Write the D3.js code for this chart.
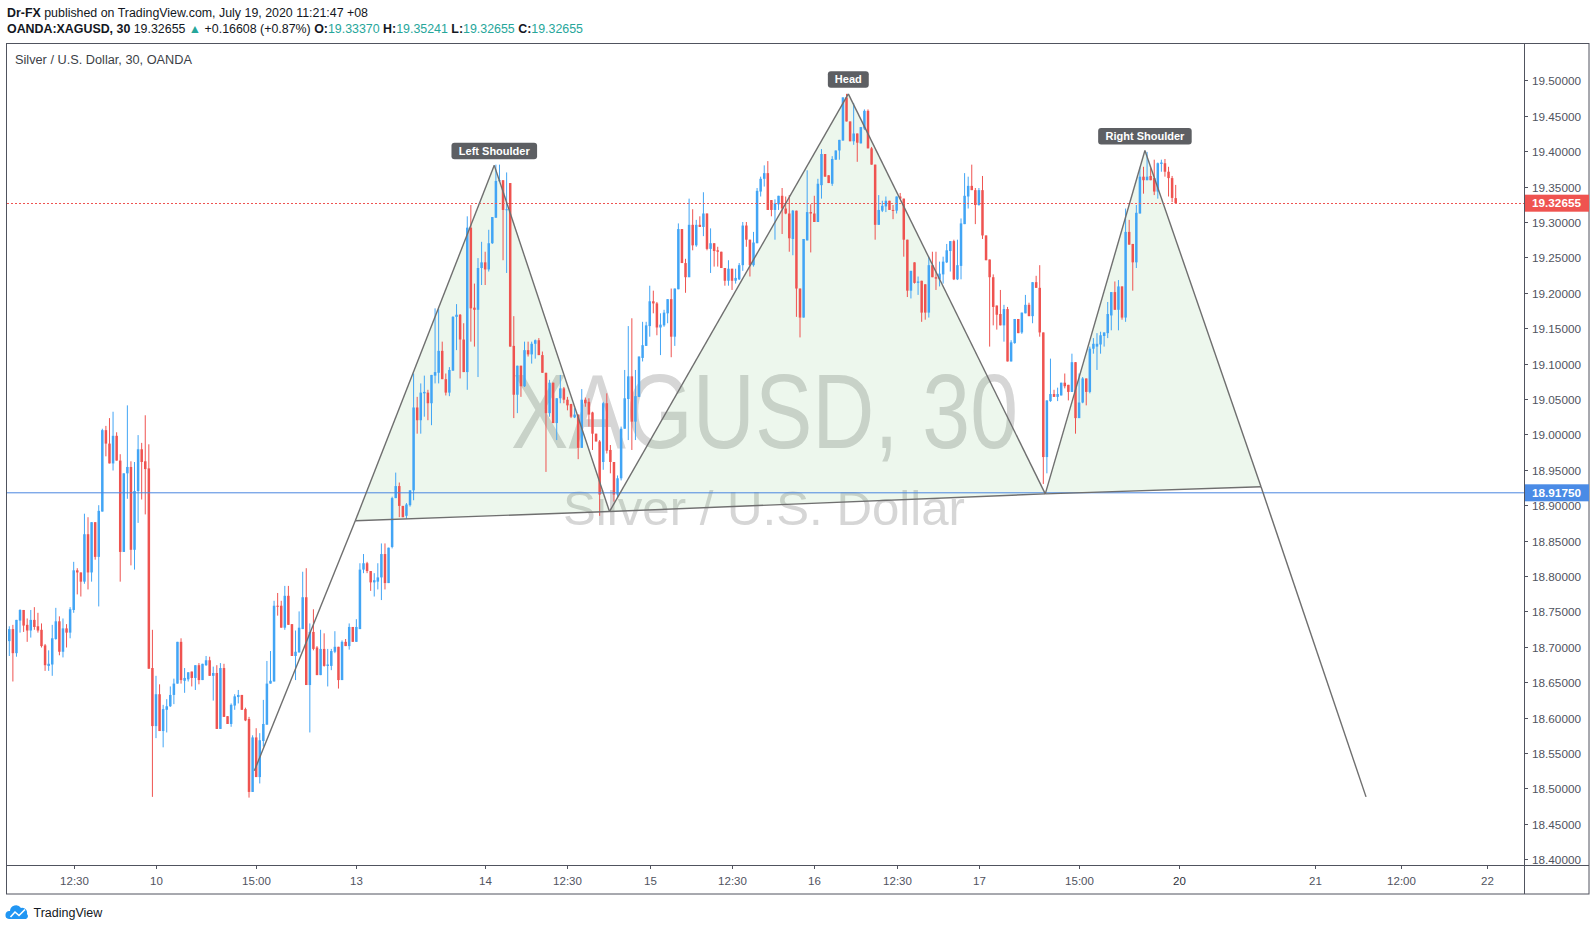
<!DOCTYPE html>
<html><head><meta charset="utf-8">
<script src="https://cdn.jsdelivr.net/npm/d3@7"></script>
<style>body{margin:0;background:#fff;} svg{display:block;font-family:"Liberation Sans",Arial,sans-serif;}</style>
</head><body><svg id="c" width="1596" height="930"></svg>
<script>
// ---- data (30-minute candles, XAGUSD) ----
const open = [
18.708,18.725,18.691,18.737,18.752,18.731,18.723,18.738,18.729,18.724,
18.702,18.673,18.675,18.711,18.736,18.693,18.726,18.720,18.752,18.808,
18.805,18.792,18.859,18.805,18.876,18.827,18.891,19.006,18.987,18.959,
18.998,18.963,18.834,18.945,18.954,18.837,18.920,18.979,18.962,18.952,
18.670,18.588,18.633,18.581,18.611,18.616,18.632,18.648,18.707,18.652,
18.654,18.665,18.656,18.674,18.653,18.674,18.681,18.659,18.663,18.584,
18.670,18.602,18.591,18.617,18.629,18.632,18.612,18.598,18.495,18.572,
18.516,18.567,18.590,18.648,18.651,18.758,18.758,18.727,18.772,18.732,
18.687,18.692,18.725,18.770,18.646,18.721,18.699,18.660,18.697,18.673,
18.673,18.693,18.700,18.653,18.707,18.701,18.728,18.707,18.725,18.809,
18.818,18.807,18.791,18.792,18.798,18.831,18.790,18.841,18.910,18.927,
18.899,18.885,18.900,18.921,19.038,19.020,19.058,19.059,19.044,19.083,
19.087,19.118,19.078,19.059,19.090,19.166,19.169,19.134,19.088,19.292,
19.179,19.176,19.235,19.243,19.233,19.270,19.306,19.358,19.359,19.317,
19.355,19.125,19.056,19.097,19.068,19.119,19.113,19.128,19.133,19.112,
19.087,19.030,19.073,19.016,19.051,19.065,19.049,19.043,19.024,19.028,
18.981,19.049,19.046,19.031,19.001,18.990,18.961,19.044,18.978,18.961,
18.915,18.938,19.008,19.050,19.082,19.018,19.053,19.108,19.125,19.153,
19.188,19.185,19.151,19.154,19.171,19.191,19.138,19.205,19.290,19.242,
19.222,19.296,19.267,19.296,19.293,19.312,19.262,19.270,19.260,19.258,
19.235,19.217,19.234,19.217,19.219,19.239,19.295,19.275,19.239,19.270,
19.343,19.361,19.369,19.331,19.317,19.325,19.337,19.319,19.312,19.276,
19.316,19.206,19.165,19.274,19.314,19.312,19.300,19.352,19.396,19.366,
19.354,19.388,19.401,19.415,19.476,19.442,19.414,19.425,19.411,19.432,
19.457,19.404,19.381,19.296,19.316,19.322,19.330,19.317,19.316,19.336,
19.333,19.275,19.203,19.243,19.214,19.217,19.212,19.172,19.239,19.222,
19.219,19.226,19.243,19.259,19.273,19.219,19.238,19.297,19.336,19.351,
19.345,19.324,19.345,19.281,19.247,19.222,19.182,19.170,19.154,19.177,
19.103,19.129,19.163,19.144,19.171,19.183,19.167,19.215,19.207,19.144,
18.968,19.047,19.057,19.053,19.055,19.073,19.070,19.060,19.102,19.023,
19.045,19.079,19.060,19.121,19.124,19.127,19.139,19.143,19.168,19.201,
19.176,19.209,19.165,19.286,19.269,19.243,19.312,19.364,19.359,19.365,
19.362,19.343,19.382,19.383,19.371,19.362,19.3337];
const high = [
18.729,18.731,18.738,18.753,18.752,18.740,18.752,18.756,18.748,18.733,
18.704,18.695,18.731,18.755,18.743,18.740,18.732,18.756,18.820,18.811,
18.805,18.888,18.883,18.876,18.876,18.900,19.008,19.012,19.023,19.032,
19.003,18.972,18.945,19.041,18.962,18.961,18.999,18.988,19.027,18.986,
18.724,18.659,18.647,18.618,18.626,18.644,18.655,18.707,18.712,18.670,
18.664,18.665,18.674,18.677,18.676,18.687,18.686,18.672,18.674,18.677,
18.676,18.602,18.620,18.633,18.639,18.632,18.614,18.601,18.575,18.585,
18.578,18.625,18.680,18.694,18.765,18.776,18.765,18.786,18.786,18.732,
18.723,18.750,18.806,18.811,18.733,18.753,18.701,18.724,18.719,18.697,
18.697,18.722,18.700,18.709,18.711,18.733,18.728,18.739,18.818,18.831,
18.820,18.807,18.804,18.818,18.846,18.846,18.840,18.912,18.946,18.932,
18.899,18.903,18.921,19.086,19.053,19.072,19.083,19.063,19.084,19.178,
19.177,19.131,19.086,19.095,19.167,19.184,19.170,19.157,19.308,19.324,
19.213,19.249,19.272,19.258,19.289,19.307,19.381,19.381,19.359,19.370,
19.355,19.167,19.097,19.097,19.131,19.131,19.131,19.134,19.136,19.117,
19.087,19.077,19.073,19.051,19.084,19.067,19.053,19.043,19.037,19.028,
19.064,19.052,19.051,19.032,19.001,18.992,19.046,19.058,18.985,18.961,
18.942,19.011,19.091,19.153,19.164,19.091,19.110,19.159,19.159,19.210,
19.203,19.187,19.171,19.176,19.191,19.206,19.206,19.298,19.290,19.248,
19.333,19.318,19.303,19.308,19.342,19.312,19.291,19.270,19.265,19.258,
19.235,19.246,19.234,19.234,19.242,19.300,19.300,19.275,19.286,19.348,
19.364,19.380,19.386,19.331,19.332,19.337,19.348,19.336,19.338,19.317,
19.316,19.206,19.276,19.373,19.325,19.337,19.361,19.403,19.396,19.366,
19.393,19.401,19.416,19.476,19.481,19.442,19.468,19.425,19.434,19.459,
19.459,19.406,19.381,19.338,19.330,19.336,19.330,19.324,19.336,19.341,
19.333,19.275,19.231,19.243,19.223,19.217,19.212,19.251,19.258,19.258,
19.244,19.251,19.269,19.273,19.275,19.275,19.305,19.369,19.364,19.381,
19.348,19.348,19.365,19.281,19.247,19.226,19.182,19.204,19.183,19.180,
19.133,19.163,19.163,19.172,19.197,19.186,19.215,19.224,19.239,19.144,
19.048,19.107,19.063,19.066,19.073,19.086,19.070,19.114,19.102,19.086,
19.081,19.079,19.124,19.136,19.143,19.145,19.144,19.187,19.201,19.216,
19.218,19.209,19.319,19.303,19.269,19.324,19.377,19.378,19.399,19.376,
19.388,19.384,19.388,19.389,19.378,19.365,19.3524];
const low = [
18.687,18.651,18.686,18.720,18.721,18.707,18.713,18.724,18.720,18.699,
18.666,18.666,18.659,18.710,18.688,18.685,18.699,18.712,18.748,18.774,
18.771,18.789,18.781,18.792,18.823,18.757,18.891,18.969,18.959,18.949,
18.963,18.792,18.834,18.909,18.815,18.809,18.875,18.908,18.887,18.669,
18.488,18.571,18.581,18.558,18.579,18.615,18.619,18.648,18.648,18.635,
18.651,18.644,18.639,18.647,18.653,18.673,18.659,18.624,18.584,18.584,
18.601,18.591,18.587,18.611,18.620,18.611,18.595,18.487,18.495,18.516,
18.507,18.559,18.590,18.648,18.651,18.744,18.727,18.724,18.731,18.687,
18.653,18.692,18.725,18.646,18.579,18.695,18.660,18.660,18.672,18.644,
18.667,18.691,18.641,18.653,18.701,18.696,18.707,18.707,18.725,18.804,
18.804,18.779,18.771,18.781,18.766,18.781,18.790,18.839,18.910,18.883,
18.883,18.881,18.898,18.907,19.001,19.001,19.025,19.020,19.013,19.072,
19.072,19.078,19.055,19.054,19.090,19.119,19.079,19.088,19.063,19.131,
19.124,19.081,19.211,19.211,19.230,19.269,19.306,19.357,19.246,19.228,
19.124,19.023,19.030,19.053,19.067,19.110,19.100,19.107,19.112,19.087,
18.947,19.025,19.016,18.992,19.044,19.044,19.034,19.023,19.023,18.965,
18.981,19.039,19.011,18.978,18.990,18.885,18.950,18.973,18.945,18.905,
18.910,18.935,19.008,18.992,18.978,18.992,19.053,19.103,19.125,19.138,
19.171,19.140,19.112,19.152,19.157,19.109,19.125,19.205,19.242,19.200,
19.222,19.260,19.265,19.293,19.280,19.260,19.228,19.237,19.237,19.235,
19.210,19.210,19.204,19.213,19.218,19.231,19.265,19.223,19.237,19.270,
19.336,19.350,19.317,19.308,19.275,19.317,19.283,19.311,19.258,19.253,
19.166,19.137,19.165,19.274,19.257,19.300,19.300,19.333,19.364,19.355,
19.351,19.388,19.388,19.415,19.442,19.414,19.409,19.385,19.411,19.430,
19.404,19.381,19.275,19.296,19.314,19.314,19.317,19.304,19.312,19.333,
19.251,19.194,19.192,19.213,19.197,19.159,19.162,19.165,19.222,19.204,
19.209,19.213,19.242,19.230,19.218,19.218,19.219,19.297,19.319,19.345,
19.297,19.323,19.276,19.246,19.124,19.154,19.148,19.154,19.131,19.103,
19.103,19.128,19.143,19.142,19.171,19.167,19.157,19.207,19.138,18.930,
18.945,19.046,19.053,19.047,19.055,19.065,19.048,19.060,19.001,19.023,
19.044,19.041,19.058,19.114,19.091,19.114,19.124,19.136,19.147,19.176,
19.147,19.162,19.159,19.268,19.203,19.235,19.312,19.340,19.359,19.359,
19.338,19.333,19.371,19.364,19.336,19.328,19.3266];
const close = [
18.725,18.691,18.738,18.752,18.730,18.723,18.738,18.728,18.723,18.701,
18.674,18.676,18.712,18.736,18.693,18.726,18.720,18.753,18.808,18.805,
18.792,18.859,18.805,18.876,18.827,18.892,19.006,18.987,18.959,18.998,
18.963,18.834,18.945,18.954,18.837,18.920,18.979,18.961,18.951,18.669,
18.588,18.633,18.581,18.612,18.616,18.632,18.648,18.707,18.653,18.656,
18.664,18.656,18.674,18.653,18.676,18.681,18.659,18.663,18.584,18.670,
18.601,18.591,18.618,18.630,18.632,18.611,18.596,18.495,18.572,18.516,
18.568,18.591,18.648,18.652,18.758,18.757,18.727,18.772,18.731,18.687,
18.693,18.727,18.770,18.646,18.721,18.697,18.660,18.697,18.673,18.675,
18.694,18.700,18.653,18.707,18.701,18.728,18.707,18.728,18.809,18.818,
18.807,18.791,18.794,18.798,18.831,18.790,18.840,18.910,18.927,18.899,
18.883,18.901,18.921,19.038,19.020,19.059,19.060,19.044,19.084,19.088,
19.118,19.078,19.059,19.091,19.166,19.169,19.134,19.088,19.292,19.178,
19.176,19.235,19.243,19.233,19.270,19.307,19.358,19.359,19.317,19.318,
19.124,19.056,19.097,19.068,19.119,19.113,19.128,19.133,19.112,19.087,
19.030,19.073,19.016,19.051,19.065,19.049,19.041,19.025,19.028,18.981,
19.049,19.044,19.028,19.001,18.990,18.915,19.044,18.977,18.961,18.915,
18.938,19.008,19.051,19.082,19.018,19.054,19.110,19.126,19.154,19.188,
19.185,19.151,19.155,19.172,19.191,19.138,19.206,19.290,19.242,19.222,
19.296,19.267,19.296,19.293,19.312,19.262,19.270,19.259,19.258,19.235,
19.217,19.234,19.217,19.221,19.239,19.295,19.275,19.239,19.271,19.344,
19.361,19.369,19.317,19.317,19.326,19.337,19.319,19.312,19.277,19.316,
19.206,19.165,19.276,19.314,19.312,19.300,19.354,19.396,19.364,19.355,
19.389,19.401,19.416,19.476,19.442,19.414,19.425,19.412,19.434,19.457,
19.404,19.381,19.296,19.317,19.323,19.330,19.317,19.316,19.336,19.333,
19.275,19.203,19.231,19.214,19.216,19.172,19.172,19.239,19.222,19.220,
19.227,19.244,19.260,19.273,19.219,19.239,19.298,19.337,19.351,19.345,
19.324,19.345,19.281,19.246,19.222,19.180,19.169,19.154,19.177,19.103,
19.130,19.163,19.143,19.172,19.183,19.167,19.215,19.207,19.144,18.968,
19.048,19.057,19.053,19.057,19.073,19.068,19.060,19.102,19.023,19.045,
19.079,19.060,19.121,19.128,19.128,19.140,19.144,19.170,19.201,19.176,
19.209,19.165,19.286,19.268,19.243,19.313,19.364,19.359,19.364,19.359,
19.343,19.383,19.384,19.371,19.362,19.334,19.3266];

const timeTickIndex  = [18, 41, 69, 97, 133, 156, 179, 202, 225, 248, 271, 299, 327, 365, 389, 413];
const timeTickLabels = ["12:30","10","15:00","13","14","12:30","15","12:30","16","12:30","17","15:00","20","21","12:00","22"];
const priceTicks = [18.40,18.45,18.50,18.55,18.60,18.65,18.70,18.75,18.80,18.85,18.90,18.95,19.00,19.05,19.10,19.15,19.20,19.25,19.30,19.35,19.40,19.45,19.50];

// head & shoulders drawing anchors (bar index, price)
const patternIndex = [68.5, 96.7, 135.55, 167.75, 234.5, 289.55, 317.4, 349.85, 379.2];
const patternPrice = [18.525, 18.878, 19.380, 18.891, 19.481, 18.916, 19.401, 18.926, 18.488];
const patternLabels = ["Left Shoulder", "Head", "Right Shoulder"];
const patternLabelAt = [2, 4, 6];

const lastPrice = 19.32655;
const necklinePrice = 18.9175;
const visibleIndex = [-0.643, 423.35];
const visiblePrice = [18.3918, 19.5514];

// ---- layout ----
const W = 1596, H = 930;
const L = 7, R = 1524, T = 44, B = 865, AX = 1589, BB = 894;
const UP = "#42a5f5", DOWN = "#ef5350", AXC = "#50535e", TXT = "#131722";

const svg = d3.select("#c");
const x = d3.scaleLinear().domain(visibleIndex).range([L, R]);
const y = d3.scaleLinear().domain(visiblePrice).range([B, T]);

svg.append("rect").attr("width", W).attr("height", H).attr("fill", "#fff");

// header
const h1 = svg.append("text").attr("x", 7).attr("y", 17).attr("font-size", 12).attr("fill", TXT)
  .attr("textLength", 361).attr("lengthAdjust", "spacingAndGlyphs");
h1.append("tspan").attr("font-weight", "bold").text("Dr-FX");
h1.append("tspan").text(" published on TradingView.com, July 19, 2020 11:21:47 +08");

const TEAL = "#26a69a";
const h2 = svg.append("text").attr("x", 7).attr("y", 33).attr("font-size", 12).attr("fill", TXT)
  .attr("textLength", 576).attr("lengthAdjust", "spacingAndGlyphs");
[["OANDA:XAGUSD, 30", TXT, "bold"], [" 19.32655 ", TXT, "normal"], ["\u25B2", TEAL, "normal"],
 [" +0.16608 (+0.87%) ", TXT, "normal"], ["O:", TXT, "bold"], ["19.33370", TEAL, "normal"],
 [" H:", TXT, "bold"], ["19.35241", TEAL, "normal"], [" L:", TXT, "bold"], ["19.32655", TEAL, "normal"],
 [" C:", TXT, "bold"], ["19.32655", TEAL, "normal"]].forEach(([t, c, w]) => {
  h2.append("tspan").attr("fill", c).attr("font-weight", w).text(t);
});

// clip
svg.append("defs").append("clipPath").attr("id", "plot")
  .append("rect").attr("x", L).attr("y", T).attr("width", R - L).attr("height", B - T);
const plot = svg.append("g").attr("clip-path", "url(#plot)");

// watermark
plot.append("text").attr("x", 764.5).attr("y", 448).attr("text-anchor", "middle")
  .attr("font-size", 106).attr("fill", "#d6d6d6")
  .attr("textLength", 507).attr("lengthAdjust", "spacingAndGlyphs").text("XAGUSD, 30");
plot.append("text").attr("x", 764).attr("y", 525).attr("text-anchor", "middle")
  .attr("font-size", 48).attr("fill", "#d6d6d6")
  .attr("textLength", 402).attr("lengthAdjust", "spacingAndGlyphs").text("Silver / U.S. Dollar");

// pattern fills
const P = patternIndex.map((v, k) => [x(v), y(patternPrice[k])]);
[[1, 2, 3], [3, 4, 5], [5, 6, 7]].forEach(tri => {
  plot.append("path").attr("d", "M" + tri.map(k => P[k].join(",")).join("L") + "Z")
    .attr("fill", "rgb(76,175,80)").attr("fill-opacity", 0.1);
});

// candles
const bars = close.map((c, i) => ({ i, o: open[i], h: high[i], l: low[i], c }));
const col = d => d.c >= d.o ? UP : DOWN;
plot.append("g").selectAll("line").data(bars).join("line")
  .attr("x1", d => x(d.i)).attr("x2", d => x(d.i))
  .attr("y1", d => y(Math.max(d.h, d.o, d.c))).attr("y2", d => y(Math.min(d.l, d.o, d.c)))
  .attr("stroke", col).attr("stroke-width", 1);
plot.append("g").selectAll("rect").data(bars).join("rect")
  .attr("x", d => x(d.i) - 1.25).attr("width", 2.5)
  .attr("y", d => y(Math.max(d.o, d.c)))
  .attr("height", d => Math.max(1, Math.abs(y(d.o) - y(d.c))))
  .attr("fill", col);

// horizontal lines
plot.append("line").attr("x1", L).attr("x2", R).attr("y1", y(necklinePrice)).attr("y2", y(necklinePrice))
  .attr("stroke", "#4a87e0").attr("stroke-width", 1);
plot.append("line").attr("x1", L).attr("x2", R).attr("y1", Math.round(y(lastPrice)) + 0.5).attr("y2", Math.round(y(lastPrice)) + 0.5)
  .attr("stroke", DOWN).attr("stroke-width", 1).attr("stroke-dasharray", "2,2");

// pattern lines
const segs = [[0,1],[1,2],[2,3],[3,4],[4,5],[5,6],[6,7],[7,8],[1,3],[3,5],[5,7]];
plot.append("g").selectAll("line").data(segs).join("line")
  .attr("x1", s => P[s[0]][0]).attr("y1", s => P[s[0]][1])
  .attr("x2", s => P[s[1]][0]).attr("y2", s => P[s[1]][1])
  .attr("stroke", "#6f6f6f").attr("stroke-width", 1.4);

// labels
patternLabels.forEach((t, k) => {
  const p = P[patternLabelAt[k]];
  const g = plot.append("g");
  const tx = g.append("text").attr("x", p[0]).attr("y", p[1] - 10.5).attr("text-anchor", "middle")
    .attr("font-size", 11).attr("font-weight", "bold").attr("fill", "#fff").text(t);
  const bb = tx.node().getBBox();
  g.insert("rect", "text").attr("x", p[0] - bb.width / 2 - 7).attr("y", p[1] - 22.5)
    .attr("width", bb.width + 14).attr("height", 16.5).attr("rx", 3).attr("fill", "#5d5f63");
});

svg.append("text").attr("x", 15).attr("y", 64).attr("font-size", 12).attr("fill", "#3c3f47")
  .attr("textLength", 177).attr("lengthAdjust", "spacingAndGlyphs").text("Silver / U.S. Dollar, 30, OANDA");

// frame
svg.append("rect").attr("x", 6.5).attr("y", 43.5).attr("width", AX - 6.5).attr("height", BB - 43.5)
  .attr("fill", "none").attr("stroke", AXC).attr("stroke-width", 1);
svg.append("line").attr("x1", R + 0.5).attr("x2", R + 0.5).attr("y1", 43.5).attr("y2", BB)
  .attr("stroke", AXC);
svg.append("line").attr("x1", 6.5).attr("x2", AX).attr("y1", B + 0.5).attr("y2", B + 0.5)
  .attr("stroke", AXC);

// price axis
const pa = svg.append("g");
priceTicks.forEach(v => {
  const yy = Math.round(y(v)) + 0.5;
  pa.append("line").attr("x1", R).attr("x2", R + 4).attr("y1", yy).attr("y2", yy).attr("stroke", AXC);
  pa.append("text").attr("x", 1532).attr("y", yy + 4).attr("font-size", 11.5).attr("fill", AXC)
    .attr("textLength", 49).attr("lengthAdjust", "spacingAndGlyphs").text(v.toFixed(5));
});
[[lastPrice, "#ef5350"], [necklinePrice, "#4a8be6"]].forEach(([v, c]) => {
  const yy = y(v);
  pa.append("rect").attr("x", R + 1).attr("y", yy - 8.5).attr("width", AX - R - 1).attr("height", 17).attr("fill", c);
  pa.append("text").attr("x", 1532).attr("y", yy + 4).attr("font-size", 11.5).attr("font-weight", "bold")
    .attr("fill", "#fff").attr("textLength", 49).attr("lengthAdjust", "spacingAndGlyphs").text(v.toFixed(5));
});

// time axis
const ta = svg.append("g");
timeTickIndex.forEach((v, k) => {
  const xx = Math.round(x(v)) + 0.5;
  ta.append("line").attr("x1", xx).attr("x2", xx).attr("y1", B).attr("y2", B + 4).attr("stroke", AXC);
  ta.append("text").attr("x", xx).attr("y", 884.5).attr("text-anchor", "middle").attr("font-size", 11.5)
    .attr("fill", timeTickLabels[k] === "20" ? "#2a2e39" : AXC).text(timeTickLabels[k]);
});

// TradingView logo
const lg = svg.append("g");
lg.append("path").attr("d", "M9,919 a4,4 0 0 1 1,-8 a6,6 0 0 1 11,-3 a5,5 0 0 1 6,6 a3,3 0 0 1 -1,5 Z").attr("fill", "#2196f3");
lg.append("path").attr("d", "M10.5,917 L15,912 L19,915.5 L25,909.5").attr("fill", "none").attr("stroke", "#fff").attr("stroke-width", 1.6);
svg.append("text").attr("x", 33.5).attr("y", 917).attr("font-size", 12.5).attr("fill", TXT).text("TradingView");
</script>
</body></html>
